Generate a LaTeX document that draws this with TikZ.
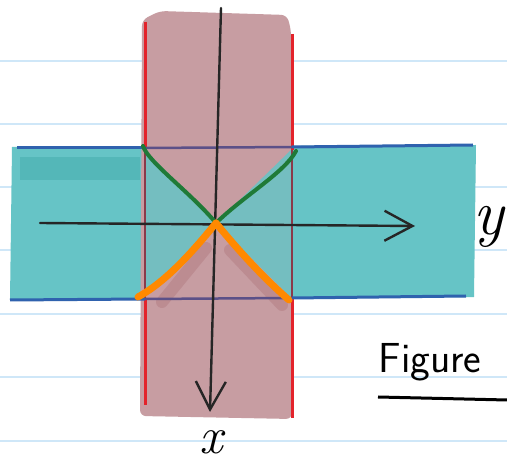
\documentclass[tikz,border=0pt]{standalone}
\usepackage{amsmath,amssymb}
\usepackage{tikz}
\usetikzlibrary{arrows.meta,calc,positioning}
\definecolor{RuleBlue}{HTML}{CFE7F8}
\definecolor{BandRose}{HTML}{C79DA2}
\definecolor{BandTeal}{HTML}{66C4C6}
\definecolor{TealDeep}{HTML}{3FA8A8}
\definecolor{RoseDeep}{HTML}{A5656C}
\definecolor{EdgeRed}{HTML}{E3232B}
\definecolor{EdgeMaroon}{HTML}{8A3A4A}
\definecolor{EdgeBlue}{HTML}{2F62AE}
\definecolor{EdgePurple}{HTML}{5B5088}
\definecolor{ConeGreen}{HTML}{1F7A37}
\definecolor{ConeOrange}{HTML}{FF8900}
\tikzset{
  rule/.style={RuleBlue, line width=1.6pt},
  axis/.style={black!85, line width=2.4pt, line cap=round, -{Straight Barb[length=28pt,width=30pt,line width=2.4pt]}},
  hand/.style={font=\itshape\fontsize{64}{64}\selectfont, inner sep=0pt}
}

\begin{document}
\begin{tikzpicture}[x=1pt, y=-1pt]
    \useasboundingbox (0,0) rectangle (507,465);
    \fill[white] (0,0) rectangle (507,465);
    \foreach \ry in {61,124,187,250,314,377,441}
      \draw[rule] (0,\ry) -- (507,\ry);

    \fill[BandTeal] (12,147) -- (476,145) -- (474,297) -- (10,300) -- cycle;
    \fill[TealDeep, opacity=0.45] (20,157) rectangle (140,180);
    \fill[BandRose, rounded corners=6pt] (142,20) -- (160,11) -- (287,15) -- (291,30)
      -- (292,419) -- (140,416) -- cycle;

    \coordinate (cross) at (216,223);
    \coordinate (gl) at (143,146);
    \coordinate (gr) at (296,151);
    \coordinate (ol) at (138,297);
    \coordinate (or) at (289,300);

    \fill[BandTeal, opacity=0.85] (145,150) -- (cross) -- (145,297) -- cycle;
    \fill[BandTeal, opacity=0.85] (291,150) -- (cross) -- (291,298) -- cycle;
    \draw[RoseDeep, opacity=0.3, line width=12pt, line cap=round] (206,248) -- (162,302);
    \draw[RoseDeep, opacity=0.3, line width=12pt, line cap=round] (230,250) -- (282,305);

    \draw[EdgeRed, line width=3pt] (145,22) -- (145,150);
    \draw[EdgeMaroon, line width=2pt] (145,150) -- (145,298);
    \draw[EdgeRed, line width=3pt] (145,298) -- (145,405);
    \draw[EdgeRed, line width=3pt] (292,34) -- (292,150);
    \draw[EdgeMaroon, line width=2pt] (292,150) -- (292,298);
    \draw[EdgeRed, line width=3pt] (292,298) -- (292,418);

    \draw[EdgeBlue, line width=3pt] (17,148) -- (145,148);
    \draw[EdgePurple, line width=2.5pt] (145,148) -- (292,147);
    \draw[EdgeBlue, line width=3pt] (292,147) -- (473,145);
    \draw[EdgeBlue, line width=3pt] (10,300) -- (145,299);
    \draw[EdgePurple, line width=2.5pt] (145,299) -- (292,298);
    \draw[EdgeBlue, line width=3pt] (292,298) -- (466,296);

    \coordinate (xtop) at (221,8);
    \coordinate (xbot) at (210,412);
    \coordinate (ylft) at (40,223);
    \coordinate (yrgt) at (415,226);
    \draw[axis] (xtop) -- (xbot);
    \draw[axis] (ylft) -- (yrgt);

    \draw[ConeGreen, line width=4pt, line cap=round] (gl) .. controls (148,162) and (190,192) .. (cross);
    \draw[ConeGreen, line width=4pt, line cap=round] (cross) .. controls (245,195) and (285,172) .. (gr);
    \draw[ConeOrange, line width=7pt, line cap=round] (cross) .. controls (190,255) and (165,282) .. (ol);
    \draw[ConeOrange, line width=7pt, line cap=round] (cross) .. controls (242,255) and (268,282) .. (or);

    \node[hand] (ylab) at (489,227) {y};
    \node[hand, font=\itshape\fontsize{52}{52}\selectfont] (xlab) at (211,442) {x};
    \node[inner sep=0pt, font=\sffamily\fontsize{42}{42}\selectfont] (figlab) at (430,362) {Figure};
    \coordinate (ulft) at (378,397);
    \coordinate (urgt) at (507,400);
    \draw[black, line width=3pt] (ulft) -- (urgt);
  \end{tikzpicture}
\end{document}
